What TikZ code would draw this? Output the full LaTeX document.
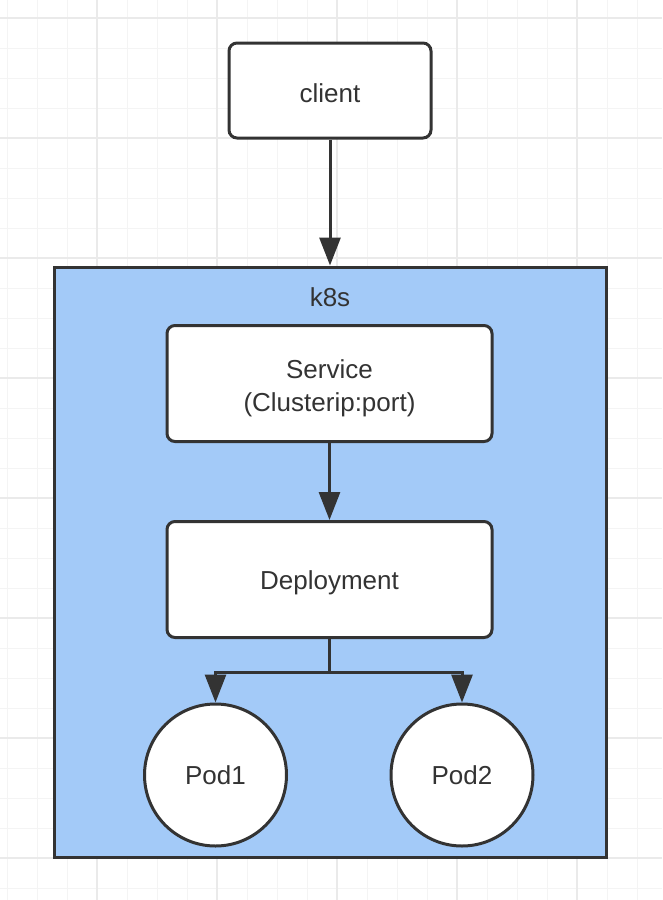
\documentclass[tikz,border=0pt]{standalone}
\usepackage{fontspec}
\setmainfont{Liberation Sans}
\usetikzlibrary{arrows.meta}
\definecolor{k8sblue}{RGB}{163,202,248}
\definecolor{inkgray}{RGB}{51,51,51}
\definecolor{gridminor}{RGB}{244,244,244}
\definecolor{gridmajor}{RGB}{234,234,234}
\begin{document}
\begin{tikzpicture}[x=1pt,y=-1pt,line width=3pt,draw=inkgray,text=inkgray,
    font=\fontsize{26}{33}\selectfont]
    \tikzstyle{box}=[rectangle,rounded corners=8pt,draw,fill=white,minimum width=325pt,minimum height=116pt,align=center]
    \tikzstyle{pod}=[circle,draw,fill=white,minimum size=142pt,inner sep=0pt]
    \tikzstyle{link}=[-{Triangle[length=28pt,width=21pt]}]
    \useasboundingbox (0,0) rectangle (662,900);
    % Draw the grid in the background
    \foreach \x in {7,37,...,662} \draw[gridminor,line width=1pt] (\x,0) -- (\x,900);
    \foreach \y in {18,48,...,900} \draw[gridminor,line width=1pt] (0,\y) -- (662,\y);
    \foreach \x in {97,217,...,662} \draw[gridmajor,line width=1.2pt] (\x,0) -- (\x,900);
    \foreach \y in {18,138,...,900} \draw[gridmajor,line width=1.2pt] (0,\y) -- (662,\y);
    % The cluster and its label
    \node[rectangle,draw,fill=k8sblue,minimum width=552pt,minimum height=590pt] (K) at (330,562) {};
    \node (L) at (330,297) {k8s};
    % Boxes and pods
    \node[box,minimum width=202pt,minimum height=95pt,text height=25pt] (C) at (330,90.5) {client};
    \node[box,text height=61pt] (S) at (329.5,383.5) {Service\\(Clusterip:port)};
    \node[box,text height=25pt] (D) at (329.5,579.5) {Deployment};
    \node[pod] (P1) at (215.5,775) {Pod1};
    \node[pod] (P2) at (462,775) {Pod2};
    \coordinate (X) at (329.5,672);
    \path (C) edge [link] (K);
    \path (S) edge [link] (D);
    \draw (D) -- (X);
    \draw[link] (X) -| (P1);
    \draw[link] (X) -| (P2);
\end{tikzpicture}
\end{document}
